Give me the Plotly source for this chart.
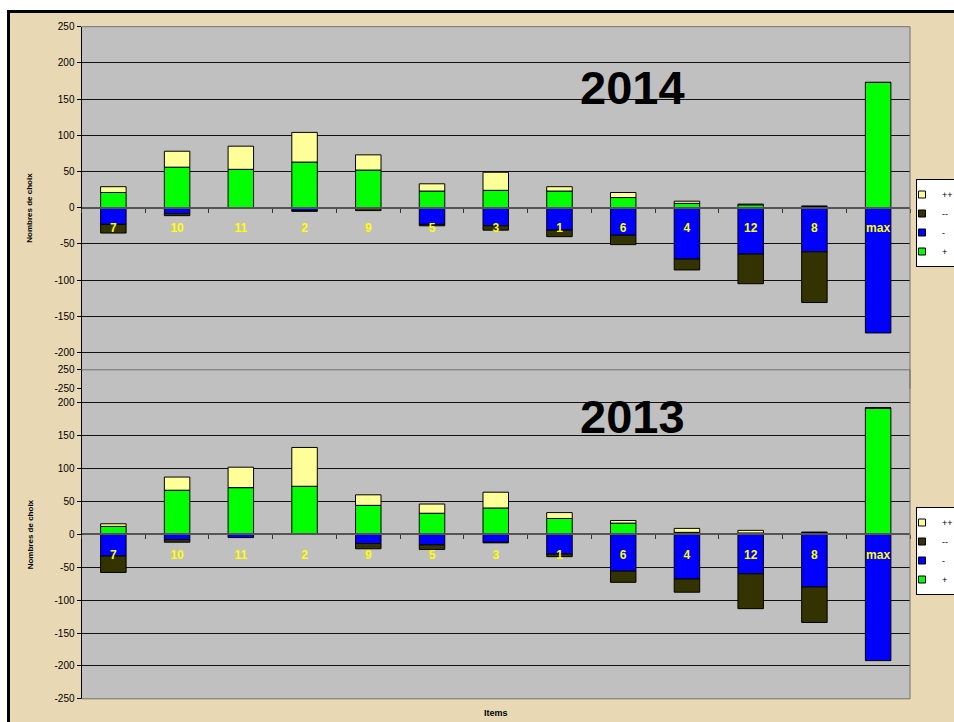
import plotly.graph_objects as go

# ---------------- data ----------------
categories = ["7", "10", "11", "2", "9", "5", "3", "1", "6", "4", "12", "8", "max"]

plus_2014 = [21, 56, 53, 63, 52, 23, 24, 23, 14, 6, 4, 2, 173]
plusplus_2014 = [8, 22, 32, 41, 21, 10, 25, 6, 7, 3, 1, 0, 0]
minus_2014 = [-23, -8, -1, -4, -1, -23, -25, -31, -38, -71, -64, -61, -173]
minusminus_2014 = [-12, -3, 0, -1, -3, -2, -6, -9, -13, -15, -41, -70, 0]

plus_2013 = [12, 67, 71, 73, 44, 32, 40, 24, 17, 3, 2, 3, 192]
plusplus_2013 = [4, 20, 31, 59, 16, 14, 24, 9, 4, 6, 4, 0, 0]
minus_2013 = [-33, -8, -5, 0, -14, -16, -12, -30, -56, -68, -60, -80, -192]
minusminus_2013 = [-25, -4, 0, 0, -8, -7, -1, -4, -17, -20, -53, -54, 0]

series_names = ["+", "-", "--", "++"]
years = ["2014", "2013"]
y_tick_vals = [-250, -200, -150, -100, -50, 0, 50, 100, 150, 200, 250]
y_tick_text = ["-250", "-200", "-150", "-100", "-50", "0", "50", "100", "150", "200", "250"]
x_title = "Items"
y_title = "Nombres de choix"

# ---------------- styling ----------------
W, H = 954, 722
PARCHMENT = "#E8D9B4"
PLOT_BG = "#C0C0C0"
colors = {"+": "#00FF00", "-": "#0000FF", "--": "#333300", "++": "#FFFF99"}
FONT = "Liberation Sans, Arial, sans-serif"


def fx(p):
    return p / W


def fy(p):
    return 1 - p / H


X_DOM = [fx(81.5), fx(910)]
TOP_DOM = [fy(388.7), fy(26.7)]
BOT_DOM = [fy(698.8), fy(369.8)]
Y_RANGE = [-250, 250]


def zero_pos(dom):
    return dom[0] + (0 - Y_RANGE[0]) / (Y_RANGE[1] - Y_RANGE[0]) * (dom[1] - dom[0])


panels = [
    dict(xa="x", ya="y", leg="legend", dom=TOP_DOM,
         data={"+": plus_2014, "-": minus_2014, "--": minusminus_2014, "++": plusplus_2014}),
    dict(xa="x2", ya="y2", leg="legend2", dom=BOT_DOM,
         data={"+": plus_2013, "-": minus_2013, "--": minusminus_2013, "++": plusplus_2013}),
]

fig = go.Figure()
for p in panels:
    for name in series_names:
        fig.add_trace(go.Bar(
            x=categories, y=p["data"][name], name=name,
            xaxis=p["xa"], yaxis=p["ya"], showlegend=False,
            marker=dict(color=colors[name], line=dict(color="#000000", width=1)),
        ))
    # legend entries (small square swatches, like the original)
    for name in series_names:
        fig.add_trace(go.Scatter(
            x=[None], y=[None], mode="markers", name=name,
            xaxis=p["xa"], yaxis=p["ya"], legend=p["leg"], hoverinfo="skip",
            marker=dict(symbol="square", size=7, color=colors[name],
                        line=dict(color="#000000", width=1)),
        ))

axis_common_y = dict(
    range=Y_RANGE, tickvals=y_tick_vals, ticktext=y_tick_text,
    showgrid=True, gridcolor="#111111", gridwidth=1,
    zeroline=False, showline=True, linecolor="#000000", linewidth=1,
    ticks="outside", ticklen=4, tickcolor="#000000",
    tickfont=dict(family=FONT, size=10, color="#000000"), fixedrange=True,
)
axis_common_x = dict(
    domain=X_DOM, anchor="free", showgrid=False, zeroline=False,
    showline=True, linecolor="#555555", linewidth=2,
    ticks="outside", ticklen=4, tickcolor="#333333", tickson="boundaries",
    tickfont=dict(family=FONT, size=12, color="#FFFF00", weight="bold"),
    ticklabelstandoff=9, fixedrange=True,
)

fig.update_layout(
    width=W, height=H, autosize=False,
    margin=dict(l=0, r=0, t=0, b=0, autoexpand=False),
    paper_bgcolor=PARCHMENT, plot_bgcolor=PLOT_BG,
    barmode="relative", bargap=0.6,
    showlegend=True,
    xaxis=dict(axis_common_x, position=zero_pos(TOP_DOM)),
    yaxis=dict(axis_common_y, domain=TOP_DOM, anchor="x"),
    xaxis2=dict(axis_common_x, position=zero_pos(BOT_DOM)),
    yaxis2=dict(axis_common_y, domain=BOT_DOM, anchor="x2"),
)

leg_common = dict(
    bgcolor="#FFFFFF", bordercolor="#000000", borderwidth=1,
    font=dict(family=FONT, size=9, color="#000000"),
    traceorder="reversed", xanchor="left", yanchor="top", indentation=-15,
    tracegroupgap=0,
)
fig.update_layout(
    legend=dict(leg_common, x=fx(916), y=fy(179)),
    legend2=dict(leg_common, x=fx(916), y=fy(507)),
)

shapes = []
# white page outside the chart frame (top and left)
shapes.append(dict(type="rect", xref="paper", yref="paper", x0=-0.01, x1=1.01, y0=fy(10), y1=1.01,
                   fillcolor="#FFFFFF", line=dict(width=0), layer="below"))
shapes.append(dict(type="rect", xref="paper", yref="paper", x0=-0.01, x1=fx(7), y0=-0.01, y1=1.01,
                   fillcolor="#FFFFFF", line=dict(width=0), layer="below"))
# chart frame
shapes.append(dict(type="line", xref="paper", yref="paper", x0=fx(8.5), x1=fx(8.5), y0=-0.02, y1=fy(10),
                   line=dict(color="#000000", width=3), layer="below"))
shapes.append(dict(type="line", xref="paper", yref="paper", x0=fx(7), x1=1.02, y0=fy(11.5), y1=fy(11.5),
                   line=dict(color="#000000", width=3), layer="below"))
# plot area borders
for xr, yr in (("x domain", "y domain"), ("x2 domain", "y2 domain")):
    shapes.append(dict(type="line", xref=xr, yref=yr, x0=0, x1=1, y0=1, y1=1,
                       line=dict(color="#707070", width=1)))
    shapes.append(dict(type="line", xref=xr, yref=yr, x0=1, x1=1, y0=0, y1=1,
                       line=dict(color="#707070", width=1)))
shapes.append(dict(type="line", xref="x2 domain", yref="y2 domain", x0=0, x1=1, y0=0, y1=0,
                   line=dict(color="#707070", width=1)))
fig.update_layout(shapes=shapes)

annotations = []
for (xr, yr), yr_text, ypos in ((("x domain", "y domain"), years[0], 0.832),
                                (("x2 domain", "y2 domain"), years[1], 0.858)):
    annotations.append(dict(xref=xr, yref=yr, x=0.665, y=ypos, text=yr_text, showarrow=False,
                            font=dict(family=FONT, size=47, color="#000000", weight="bold"),
                            xanchor="center", yanchor="middle"))
    annotations.append(dict(xref="paper", yref=yr, x=fx(30), y=0.5, text=y_title, showarrow=False,
                            textangle=-90, font=dict(family=FONT, size=8, color="#000000", weight="bold"),
                            xanchor="center", yanchor="middle"))
annotations.append(dict(xref="paper", yref="paper", x=fx(496), y=fy(713), text=x_title, showarrow=False,
                        font=dict(family=FONT, size=9, color="#000000", weight="bold"),
                        xanchor="center", yanchor="middle"))
fig.update_layout(annotations=annotations)

fig.write_html("out.html", config={"displayModeBar": False},
               post_script="document.body.style.margin='0';document.body.style.overflow='hidden';")
